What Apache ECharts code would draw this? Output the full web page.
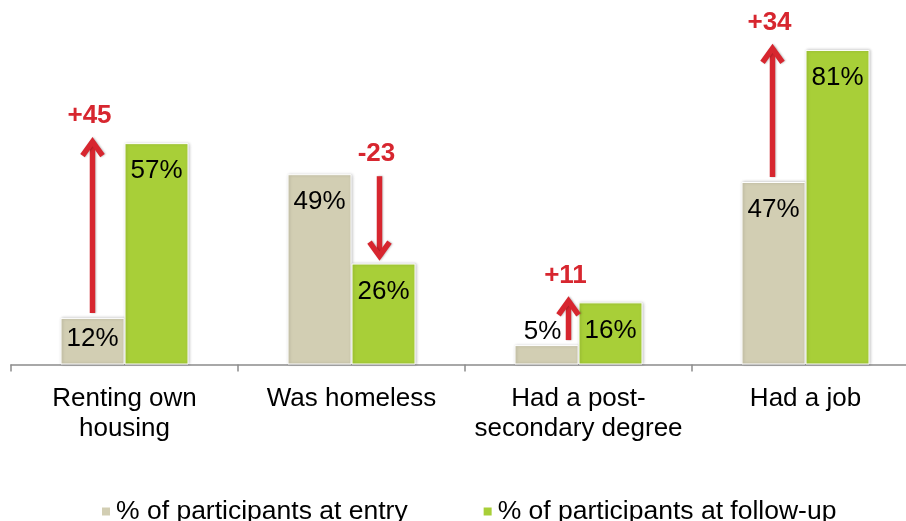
<!DOCTYPE html>
<html>
<head>
<meta charset="utf-8">
<script src="https://cdn.jsdelivr.net/npm/echarts@6/dist/echarts.min.js"></script>
<style>
  html, body { margin: 0; padding: 0; background: #fff; overflow: hidden; width: 906px; height: 521px; }
  /* the plot runs a little past the right edge of the page, so the last band is cut off */
  #chart { width: 919px; height: 521px; }
</style>
</head>
<body>
<div id="chart"></div>
<script>
// Outcomes at programme entry vs. follow-up (percent of participants)
const categories = ['Renting own\nhousing', 'Was homeless', 'Had a post-\nsecondary degree', 'Had a job'];
const entryPct = [12, 49, 5, 47];
const followPct = [57, 26, 16, 81];
const seriesNames = ['% of participants at entry', '% of participants at follow-up'];

// horizontal nudge (px) of each change arrow from its category centre
const arrowShiftPx = [-32, 28, -10, -33];

const FONT = '"Liberation Sans", Arial, sans-serif';
const RED = '#d7262f';
const BEIGE = '#d2ceb3';
const GREEN = '#a8cf38';
const FS = 26;

const chart = echarts.init(document.getElementById('chart'), null, { renderer: 'canvas' });

function entryLabel(i) {
  if (entryPct[i] < 8) return { position: 'top', distance: 0, offset: [-4, 0] };
  if (entryPct[i] < 15) return { position: 'insideTop', distance: 8 };
  return { position: 'insideTop', distance: 15 };
}

const barStyle = (color) => ({
  color: color,
  borderColor: '#ffffff',
  borderWidth: 1,
  shadowColor: 'rgba(0,0,0,0.22)',
  shadowBlur: 3,
  shadowOffsetX: 1,
  shadowOffsetY: 0
});

const labelBase = {
  show: true,
  color: '#000',
  fontFamily: FONT,
  fontSize: FS,
  formatter: '{c}%'
};

function renderArrow(params, api) {
  const i = api.value(0);
  const from = api.value(1);
  const to = api.value(2);
  const up = to > from;
  const cx = api.coord([i, 0])[0] + arrowShiftPx[i];
  const yFromPx = api.coord([i, from])[1];
  const yToPx = api.coord([i, to])[1];
  const start = up ? yFromPx - 5 : yFromPx + 2;
  const tip = up ? yToPx - 6 : yToPx - 3;
  const vertex = up ? tip + 4.5 : tip - 4.5;
  const armDy = up ? 14 : -14;
  const diff = to - from;
  const labelY = up ? tip - 21 : start - 22;
  return {
    type: 'group',
    children: [
      {
        type: 'line',
        shape: { x1: cx, y1: start, x2: cx, y2: vertex },
        style: { stroke: RED, lineWidth: 5.5, shadowColor: 'rgba(0,0,0,0.25)', shadowBlur: 2, shadowOffsetX: 1 }
      },
      {
        type: 'polyline',
        shape: { points: [[cx - 10, vertex + armDy], [cx, vertex], [cx + 10, vertex + armDy]] },
        style: { stroke: RED, lineWidth: 5.5, fill: null, lineJoin: 'miter', shadowColor: 'rgba(0,0,0,0.25)', shadowBlur: 2, shadowOffsetX: 1 }
      },
      {
        type: 'text',
        style: {
          text: (diff > 0 ? '+' : '') + diff,
          x: cx - 3,
          y: labelY,
          align: 'center',
          verticalAlign: 'middle',
          fill: RED,
          font: 'bold 26px ' + FONT
        }
      }
    ]
  };
}

chart.setOption({
  animation: false,
  backgroundColor: '#ffffff',
  textStyle: { fontFamily: FONT },
  grid: { left: 11, right: 0, top: 15, bottom: 156.5, containLabel: false },
  legend: {
    data: seriesNames,
    left: 95,
    top: 493,
    icon: 'rect',
    itemWidth: 10,
    itemHeight: 10,
    itemGap: 74,
    textStyle: { fontSize: 26.5, color: '#000', fontFamily: FONT }
  },
  xAxis: {
    type: 'category',
    data: categories,
    axisLine: { lineStyle: { color: '#8c8c8c', width: 1.5 } },
    axisTick: { show: true, length: 7, lineStyle: { color: '#8c8c8c', width: 1.5 } },
    axisLabel: { color: '#000', fontSize: FS, lineHeight: 30, margin: 19, fontFamily: FONT, interval: 0 }
  },
  yAxis: {
    type: 'value',
    min: 0,
    max: 90,
    show: false,
    splitLine: { show: false }
  },
  series: [
    {
      name: seriesNames[0],
      type: 'bar',
      barWidth: 64,
      barGap: '0%',
      itemStyle: barStyle(BEIGE),
      label: labelBase,
      data: entryPct.map((v, i) => ({ value: v, label: entryLabel(i) }))
    },
    {
      name: seriesNames[1],
      type: 'bar',
      barWidth: 64,
      itemStyle: barStyle(GREEN),
      label: Object.assign({}, labelBase, { position: 'insideTop', distance: 15 }),
      data: followPct
    },
    {
      type: 'custom',
      name: 'change',
      renderItem: renderArrow,
      clip: false,
      z: 5,
      encode: { x: 0, y: [1, 2] },
      data: entryPct.map((v, i) => [i, v, followPct[i]])
    }
  ]
});
</script>
</body>
</html>
